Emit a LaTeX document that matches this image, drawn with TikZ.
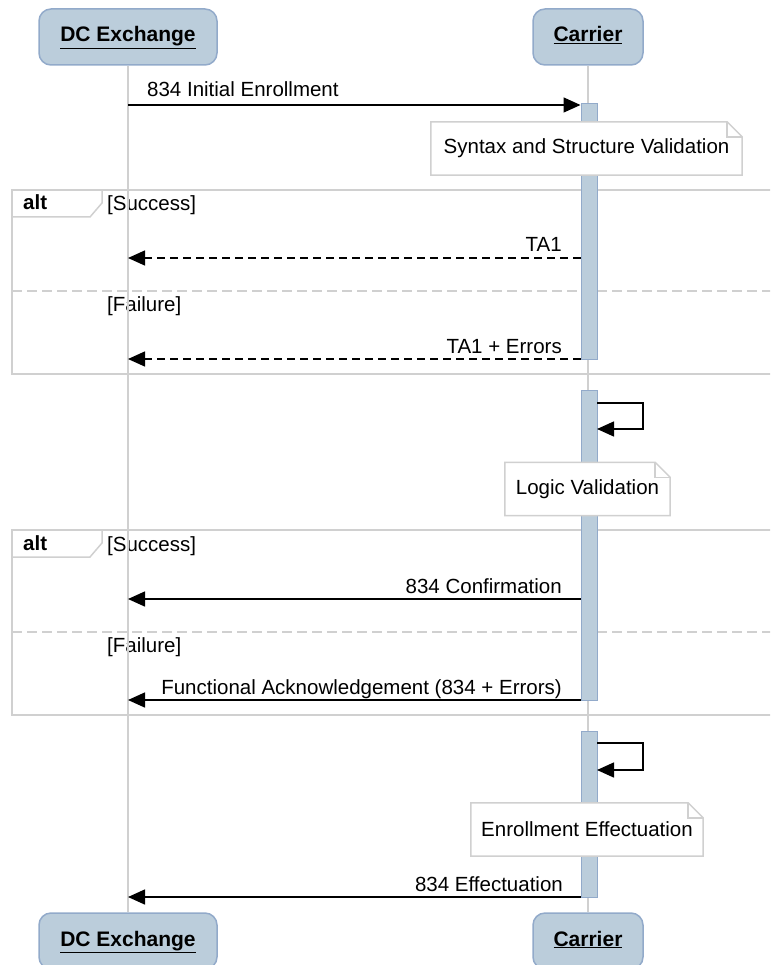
\documentclass[tikz,border=0pt]{standalone}
\usepackage{fontspec}
\setmainfont{Liberation Sans}
\usetikzlibrary{arrows.meta,positioning,calc}
\definecolor{partfill}{HTML}{BBCDDB}
\definecolor{partline}{HTML}{92AACA}
\definecolor{gridgray}{HTML}{D0D0D0}

\begin{document}
\begin{tikzpicture}[
      x=1pt, y=-1pt, font=\fontsize{20.5}{24}\selectfont,
      part/.style={draw=partline, fill=partfill, line width=1.5pt, rounded corners=12pt,
        minimum height=56pt, inner sep=0pt, text height=14pt, text depth=4pt,
        font=\fontsize{21}{24}\selectfont\bfseries},
      act/.style={draw=partline, fill=partfill, line width=1pt, minimum width=16pt, inner sep=0pt},
      life/.style={draw=gridgray, line width=1.5pt},
      frm/.style={draw=gridgray, line width=1.5pt},
      sep/.style={frm, dash pattern=on 10pt off 5pt},
      msg/.style={-{Triangle[length=17pt,width=15pt]}, line width=1.5pt},
      ret/.style={msg, dash pattern=on 8pt off 5pt},
      notebox/.style={fill=white, minimum height=53pt, inner sep=0pt},
      lbl/.style={inner sep=0pt},
    ]
    \useasboundingbox (0,0) rectangle (770,965);
    \clip (0,0) rectangle (770,965);
    % alt frames
    \draw[frm] (12,190) rectangle (790,374);
    \draw[sep] (12,291) -- (790,291);
    \draw[frm] (12,190) -- (102,190) -- (102,203) -- (90,217) -- (12,217);
    \node[lbl, anchor=base west, font=\fontsize{20.5}{24}\selectfont\bfseries] (alt1) at (23,210) {alt};
    \node[lbl, anchor=base west] (ok1) at (107,211) {[Success]};
    \node[lbl, anchor=base west] (bad1) at (107,311) {[Failure]};
    \draw[frm] (12,530) rectangle (790,715);
    \draw[sep] (12,632) -- (790,632);
    \draw[frm] (12,530) -- (102,530) -- (102,543) -- (90,557) -- (12,557);
    \node[lbl, anchor=base west, font=\fontsize{20.5}{24}\selectfont\bfseries] (alt2) at (23,550) {alt};
    \node[lbl, anchor=base west] (ok2) at (107,551) {[Success]};
    \node[lbl, anchor=base west] (bad2) at (107,652) {[Failure]};
    % participants and lifelines
    \node[part, minimum width=178pt] (dcTop) at (128,37) {\underline{DC Exchange}};
    \node[part, minimum width=110pt] (carTop) at (588,37) {\underline{Carrier}};
    \node[part, minimum width=178pt] (dcBot) at (128,941) {\underline{DC Exchange}};
    \node[part, minimum width=110pt] (carBot) at (588,941) {\underline{Carrier}};
    \foreach \p in {dc,car} {\draw[life] (\p Top) -- (\p Bot);}
    % activations
    \node[act, minimum height=255pt] (act1) at (589,231.5) {};
    \node[act, minimum height=310pt] (act2) at (589,545) {};
    \node[act, minimum height=166pt] (act3) at (589,814) {};
    % messages
    \coordinate (dc1) at (128,105);
    \coordinate (dc2) at (128,258);
    \coordinate (dc3) at (128,359);
    \coordinate (dc4) at (128,599);
    \coordinate (dc5) at (128,700);
    \coordinate (dc6) at (128,897);
    \coordinate (self1) at (597,403);
    \coordinate (self2) at (597,743);
    \draw[msg] (dc1) -- (dc1 -| act1.west);
    \draw[ret] (dc2 -| act1.west) -- (dc2);
    \draw[ret] (dc3 -| act1.west) -- (dc3);
    \draw[msg] (self1) -- ++(46,0) -- ++(0,26) -- ++(-46,0);
    \draw[msg] (dc4 -| act2.west) -- (dc4);
    \draw[msg] (dc5 -| act2.west) -- (dc5);
    \draw[msg] (self2) -- ++(46,0) -- ++(0,27) -- ++(-46,0);
    \draw[msg] (dc6 -| act3.west) -- (dc6);
    \node[lbl, anchor=base west] (m1) at (147,97) {834 Initial Enrollment};
    \node[lbl, anchor=base east] (m2) at (562,252) {TA1};
    \node[lbl, anchor=base east] (m3) at (562,353) {TA1 + Errors};
    \node[lbl, anchor=base east] (m4) at (562,593) {834 Confirmation};
    \node[lbl, anchor=base east] (m5) at (562,694) {Functional Acknowledgement (834 + Errors)};
    \node[lbl, anchor=base east] (m6) at (563,891) {834 Effectuation};
    % notes
    \node[notebox, minimum width=311pt] (note1) at (586.5,148.5) {Syntax and Structure Validation};
    \node[notebox, minimum width=165pt] (note2) at (587.5,489) {Logic Validation};
    \node[notebox, minimum width=232pt] (note3) at (587,829.5) {Enrollment Effectuation};
    \foreach \n in {note1,note2,note3} {
      \draw[frm] (\n.north west) -- ([xshift=-15pt]\n.north east) -- ([yshift=-15pt]\n.north east)
        -- (\n.south east) -- (\n.south west) -- cycle;
      \draw[frm] ([xshift=-15pt]\n.north east) |- ([yshift=-15pt]\n.north east);
    }
  \end{tikzpicture}
\end{document}
